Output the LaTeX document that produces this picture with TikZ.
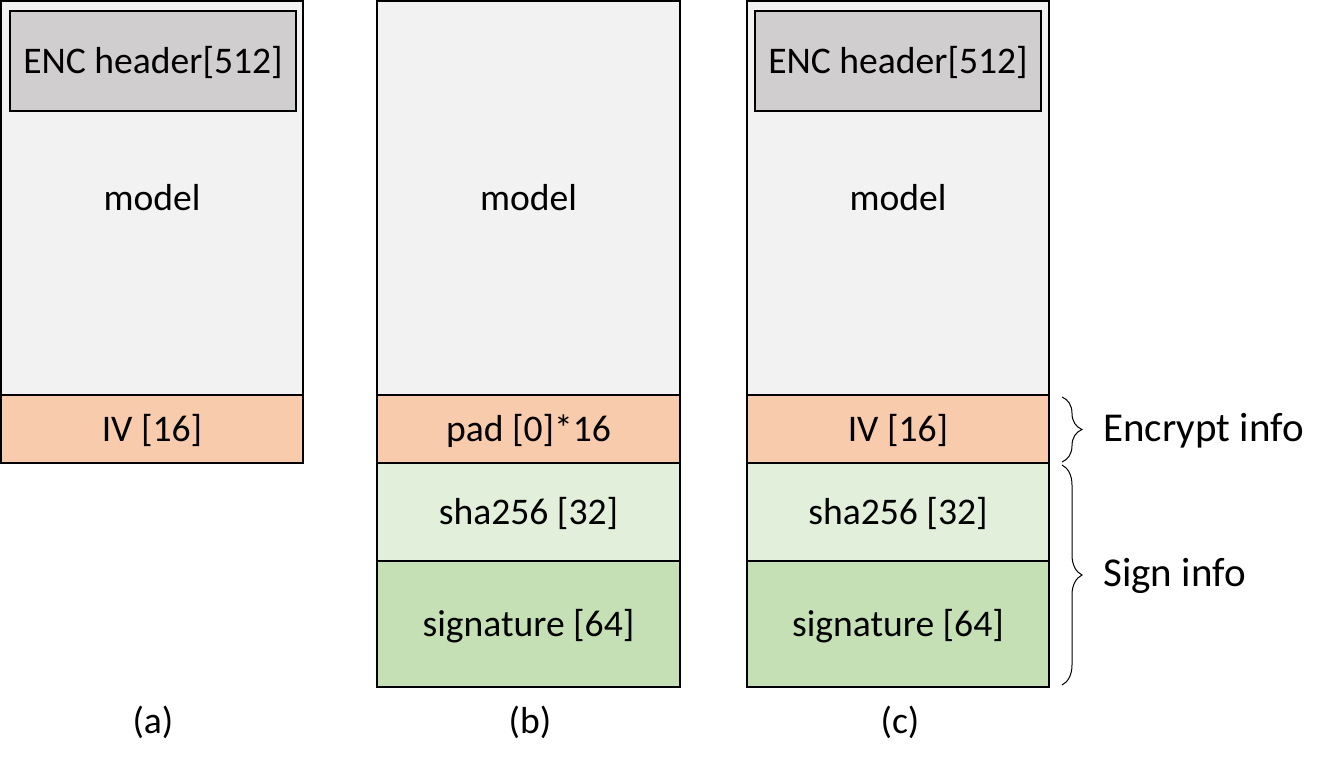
\documentclass[tikz,border=0pt]{standalone}
\usepackage{fontspec}
\setmainfont{Carlito}
\usetikzlibrary{decorations.pathreplacing}
\definecolor{modelc}{HTML}{F2F2F2}
\definecolor{encc}{HTML}{D0CECE}
\definecolor{ivc}{HTML}{F8CBAD}
\definecolor{shac}{HTML}{E2EFDA}
\definecolor{sigc}{HTML}{C5E0B4}
\tikzset{
  blk/.style={draw=black, line width=1pt, rectangle, inner sep=0pt, outer sep=0pt,
    font=\fontsize{18.8}{21}\selectfont, text height=12.7pt, text depth=0pt},
  modelbox/.style={blk, fill=modelc, minimum height=197pt},
  encbox/.style={blk, fill=encc, minimum width=143pt, minimum height=50pt},
  ivbox/.style={blk, fill=ivc, minimum height=34pt},
  shabox/.style={blk, fill=shac, minimum height=49pt},
  sigbox/.style={blk, fill=sigc, minimum height=63pt},
  captxt/.style={font=\fontsize{18.8}{21}\selectfont, inner sep=0pt, text height=12.7pt, text depth=0pt},
  side/.style={font=\fontsize{20.5}{23}\selectfont, inner sep=0pt, anchor=west, text height=13.8pt, text depth=0pt},
  brc/.style={decorate, decoration={brace, amplitude=10pt}, line width=0.5pt}
}
\begin{document}
\begin{tikzpicture}[x=0.5pt, y=-0.5pt]
\useasboundingbox (0,0) rectangle (1341,770);
% column a
\node[modelbox, minimum width=151pt] (am) at (152,198) {model};
\node[encbox] (ae) at (153,61) {ENC header[512]};
\node[ivbox, minimum width=151pt] (aiv) at (152,429) {IV [16]};
% column b
\node[modelbox, minimum width=151.5pt] (bm) at (528.5,198) {model};
\node[ivbox, minimum width=151.5pt] (bpad) at (528.5,429) {pad [0]*16};
\node[shabox, minimum width=151.5pt] (bsha) at (528.5,512) {sha256 [32]};
\node[sigbox, minimum width=151.5pt] (bsig) at (528.5,624) {signature [64]};
% column c
\node[modelbox, minimum width=151pt] (cm) at (898,198) {model};
\node[encbox] (ce) at (898,61) {ENC header[512]};
\node[ivbox, minimum width=151pt] (civ) at (898,429) {IV [16]};
\node[shabox, minimum width=151pt] (csha) at (898,512) {sha256 [32]};
\node[sigbox, minimum width=151pt] (csig) at (898,624) {signature [64]};
% captions
\node[captxt] (la) at (153,721) {(a)};
\node[captxt] (lb) at (530,721) {(b)};
\node[captxt] (lc) at (900,721) {(c)};
% braces
\coordinate (e1) at (1062,397);
\coordinate (e2) at (1062,462);
\coordinate (s1) at (1062,465);
\coordinate (s2) at (1062,685);
\draw[brc] (e1) -- (e2);
\draw[brc] (s1) -- (s2);
\node[side] (enc) at (1103,428) {Encrypt info};
\node[side] (sig) at (1103,573) {Sign info};
\end{tikzpicture}
\end{document}
